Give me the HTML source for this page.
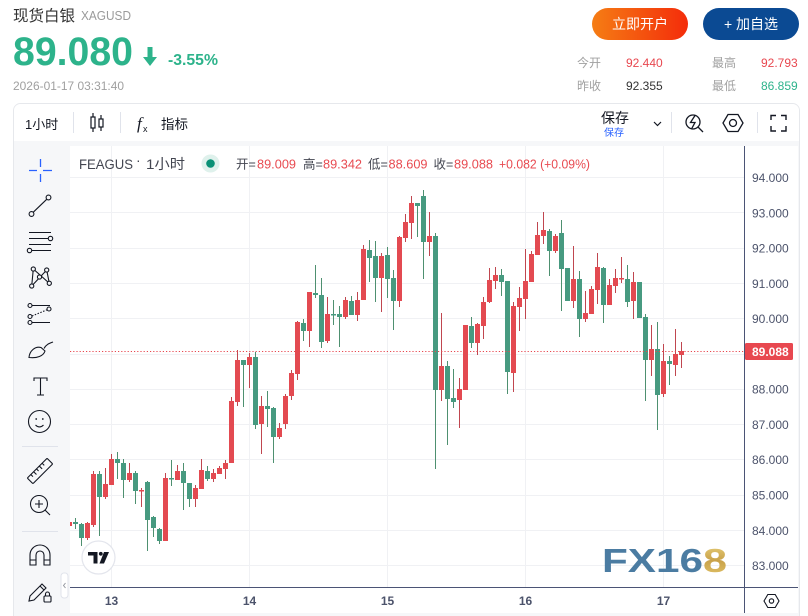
<!DOCTYPE html>
<html>
<head>
<meta charset="utf-8">
<style>
html,body{margin:0;padding:0;background:#fff;}
body{width:808px;height:616px;overflow:hidden;position:relative;}
svg{position:absolute;left:0;top:0;}
text{font-family:"Liberation Sans","Noto Sans CJK SC",sans-serif;}
</style>
</head>
<body>
<svg width="808" height="616" viewBox="0 0 808 616" xmlns="http://www.w3.org/2000/svg">
<defs>
  <linearGradient id="og" x1="0" x2="1" y1="0" y2="0">
    <stop offset="0" stop-color="#f57d14"/>
    <stop offset="1" stop-color="#f42c0a"/>
  </linearGradient>
  <linearGradient id="gold" x1="0" x2="0" y1="0" y2="1">
    <stop offset="0" stop-color="#ead27e"/>
    <stop offset="0.5" stop-color="#c9a24a"/>
    <stop offset="1" stop-color="#e3c56a"/>
  </linearGradient>
  <clipPath id="chartclip"><rect x="70" y="146" width="675" height="441"/></clipPath>
</defs>

<text x="13" y="21" font-size="15.5" fill="#333">现货白银</text>
<text x="81" y="20" font-size="12.5" fill="#9a9a9a" textLength="50" lengthAdjust="spacingAndGlyphs">XAGUSD</text>
<text x="13" y="65" font-size="40" font-weight="bold" fill="#2db38b" textLength="120" lengthAdjust="spacingAndGlyphs">89.080</text>
<path d="M147.5 47H152.5V57H157L150 66L143 57H147.5Z" fill="#2db38b"/>
<text x="168" y="65" font-size="15.5" font-weight="bold" fill="#2db38b" textLength="50" lengthAdjust="spacingAndGlyphs">-3.55%</text>
<text x="13" y="90" font-size="12" fill="#a0a0a0" textLength="111" lengthAdjust="spacingAndGlyphs">2026-01-17 03:31:40</text>

<rect x="592" y="8" width="96" height="32" rx="16" fill="url(#og)"/>
<text x="640" y="29" font-size="14" fill="#fff" text-anchor="middle">立即开户</text>
<rect x="703" y="8" width="96" height="32" rx="16" fill="#0b4a93"/>
<text x="751" y="29" font-size="14" fill="#fff" text-anchor="middle">+ 加自选</text>

<text x="577" y="67" font-size="12" fill="#a0a0a0">今开</text>
<text x="626" y="67" font-size="12" fill="#e8474f">92.440</text>
<text x="712" y="67" font-size="12" fill="#a0a0a0">最高</text>
<text x="761" y="67" font-size="12" fill="#e8474f">92.793</text>
<text x="577" y="90" font-size="12" fill="#a0a0a0">昨收</text>
<text x="626" y="90" font-size="12" fill="#333">92.355</text>
<text x="712" y="90" font-size="12" fill="#a0a0a0">最低</text>
<text x="761" y="90" font-size="12" fill="#2db38b">86.859</text>

<rect x="13.5" y="103.5" width="786" height="520" rx="7" fill="#f6f7f9" stroke="#e6e8ec"/>
<path d="M14 141V110.5A6.5 6.5 0 0 1 20.5 104H792.5A6.5 6.5 0 0 1 799 110.5V141Z" fill="#fff"/>

<text x="25" y="129" font-size="13" fill="#131722">1小时</text>
<line x1="73.5" y1="112" x2="73.5" y2="133" stroke="#e0e3eb"/>
<g stroke="#131722" stroke-width="1.2" fill="none">
  <line x1="93" y1="113" x2="93" y2="132"/>
  <rect x="91" y="117" width="4" height="11" fill="#fff"/>
  <line x1="101" y1="115" x2="101" y2="131"/>
  <rect x="99" y="119" width="4" height="8" fill="#fff"/>
</g>
<line x1="120.5" y1="112" x2="120.5" y2="133" stroke="#e0e3eb"/>
<text x="137" y="129" font-size="17" font-style="italic" fill="#131722" style="font-family:'Liberation Serif',serif">f</text>
<text x="143" y="132" font-size="9" fill="#131722">x</text>
<text x="161" y="129" font-size="13.5" fill="#131722">指标</text>

<text x="601" y="123" font-size="14" fill="#131722">保存</text>
<text x="604" y="136" font-size="10" fill="#2962ff">保存</text>
<path d="M654 122L657.5 125.5L661 122" stroke="#131722" stroke-width="1.2" fill="none"/>
<line x1="671.5" y1="112" x2="671.5" y2="133" stroke="#e0e3eb"/>
<g stroke="#131722" stroke-width="1.3" fill="none">
  <circle cx="693" cy="122" r="7"/>
  <line x1="698" y1="127" x2="703" y2="132"/>
  <path d="M695 115.5L690.5 122.5H695L691.5 129"/>
</g>
<g stroke="#131722" stroke-width="1.3" fill="none">
  <path d="M723 123L728 114.5H738L743 123L738 131.5H728Z"/>
  <circle cx="733" cy="123" r="3.5"/>
</g>
<line x1="757.5" y1="112" x2="757.5" y2="133" stroke="#e0e3eb"/>
<g stroke="#131722" stroke-width="1.4" fill="none">
  <path d="M771 120V115.5H776M781 115.5H786V120M786 126V131H781M776 131H771V126"/>
</g>

<rect x="70" y="146" width="728" height="467" fill="#fff"/>

<g stroke="#f0f1f4" stroke-width="1">
  <line x1="70" y1="177.5" x2="745" y2="177.5"/>
  <line x1="70" y1="212.5" x2="745" y2="212.5"/>
  <line x1="70" y1="248.5" x2="745" y2="248.5"/>
  <line x1="70" y1="283.5" x2="745" y2="283.5"/>
  <line x1="70" y1="318.5" x2="745" y2="318.5"/>
  <line x1="70" y1="354.5" x2="745" y2="354.5"/>
  <line x1="70" y1="389.5" x2="745" y2="389.5"/>
  <line x1="70" y1="424.5" x2="745" y2="424.5"/>
  <line x1="70" y1="459.5" x2="745" y2="459.5"/>
  <line x1="70" y1="495.5" x2="745" y2="495.5"/>
  <line x1="70" y1="530.5" x2="745" y2="530.5"/>
  <line x1="70" y1="565.5" x2="745" y2="565.5"/>
  <line x1="111.5" y1="146" x2="111.5" y2="587"/>
  <line x1="249.5" y1="146" x2="249.5" y2="587"/>
  <line x1="387.5" y1="146" x2="387.5" y2="587"/>
  <line x1="525.5" y1="146" x2="525.5" y2="587"/>
  <line x1="663.5" y1="146" x2="663.5" y2="587"/>
</g>

<text x="602" y="572" font-size="33" font-weight="bold" fill="#4b7ca2" textLength="101" lengthAdjust="spacingAndGlyphs">FX16</text>
<text x="703" y="572" font-size="33" font-weight="bold" fill="url(#gold)" textLength="24" lengthAdjust="spacingAndGlyphs">8</text>

<g clip-path="url(#chartclip)">
<path fill="none" stroke="#c0464f" stroke-width="1" d="M69.5 521V527M87.5 522V540M93.5 471V527M105.5 468V499M111.5 454V485M129.5 463V482M141.5 488V507M165.5 473V541M177.5 465V480M195.5 485V507M201.5 459V489M213.5 469V482M219.5 466V474M225.5 460V479M231.5 397V463M237.5 350V406M249.5 353V388M261.5 396V454M279.5 423V439M285.5 394V429M291.5 370V400M297.5 321V380M309.5 292V347M327.5 297V343M345.5 297V319M357.5 292V321M363.5 245V300M381.5 253V312M399.5 236V307M405.5 214V242M411.5 196V239M429.5 212V256M441.5 313V401M459.5 378V428M465.5 325V390M477.5 323V355M483.5 297V339M489.5 268V303M495.5 267V289M513.5 302V392M519.5 287V331M525.5 249V319M531.5 251V282M537.5 222V255M543.5 212V244M555.5 234V253M573.5 246V308M585.5 291V322M591.5 286V314M597.5 253V304M609.5 279V305M615.5 269V293M621.5 257V283M633.5 272V319M651.5 325V376M663.5 344V397M675.5 329V376M681.5 342V368"/>
<path fill="none" stroke="#4e9070" stroke-width="1" d="M75.5 518V529M81.5 523V546M99.5 471V536M117.5 452V479M123.5 459V498M135.5 471V504M147.5 481V551M153.5 516V537M159.5 528V544M171.5 460V486M183.5 463V510M189.5 483V507M207.5 466V481M243.5 360V407M255.5 352V429M267.5 391V427M273.5 407V463M303.5 319V341M315.5 265V298M321.5 278V348M333.5 300V325M339.5 306V347M351.5 296V315M369.5 240V282M375.5 241V302M387.5 247V298M393.5 270V330M417.5 203V237M423.5 190V279M435.5 233V469M447.5 361V445M453.5 369V408M471.5 317V348M501.5 269V296M507.5 281V394M549.5 229V276M561.5 220V311M567.5 268V301M579.5 271V337M603.5 267V323M627.5 265V307M639.5 282V318M645.5 314V401M657.5 322V430M669.5 356V385"/>
<g fill="#e34a51">
<rect x="67" y="522" width="5" height="4"/>
<rect x="85" y="523" width="5" height="15"/>
<rect x="91" y="474" width="5" height="51"/>
<rect x="103" y="484" width="5" height="13"/>
<rect x="109" y="459" width="5" height="26"/>
<rect x="127" y="473" width="5" height="7"/>
<rect x="139" y="490" width="5" height="1.5"/>
<rect x="163" y="478" width="5" height="63"/>
<rect x="175" y="471" width="5" height="9"/>
<rect x="193" y="488" width="5" height="11"/>
<rect x="199" y="470" width="5" height="19"/>
<rect x="211" y="473" width="5" height="6"/>
<rect x="217" y="468" width="5" height="6"/>
<rect x="223" y="463" width="5" height="6"/>
<rect x="229" y="401" width="5" height="62"/>
<rect x="235" y="360" width="5" height="42"/>
<rect x="247" y="357" width="5" height="8"/>
<rect x="259" y="406" width="5" height="18"/>
<rect x="277" y="428" width="5" height="9"/>
<rect x="283" y="396" width="5" height="28"/>
<rect x="289" y="373" width="5" height="23"/>
<rect x="295" y="322" width="5" height="52"/>
<rect x="307" y="292" width="5" height="39"/>
<rect x="325" y="314" width="5" height="27"/>
<rect x="343" y="300" width="5" height="17"/>
<rect x="355" y="300" width="5" height="15"/>
<rect x="361" y="249" width="5" height="51"/>
<rect x="379" y="256" width="5" height="22"/>
<rect x="397" y="237" width="5" height="64"/>
<rect x="403" y="222" width="5" height="16"/>
<rect x="409" y="203" width="5" height="20"/>
<rect x="427" y="236" width="5" height="6"/>
<rect x="439" y="366" width="5" height="24"/>
<rect x="457" y="389" width="5" height="11"/>
<rect x="463" y="325" width="5" height="65"/>
<rect x="475" y="324" width="5" height="19"/>
<rect x="481" y="302" width="5" height="24"/>
<rect x="487" y="280" width="5" height="22"/>
<rect x="493" y="275" width="5" height="6"/>
<rect x="511" y="306" width="5" height="67"/>
<rect x="517" y="298" width="5" height="9"/>
<rect x="523" y="281" width="5" height="18"/>
<rect x="529" y="254" width="5" height="28"/>
<rect x="535" y="235" width="5" height="20"/>
<rect x="541" y="230" width="5" height="6"/>
<rect x="553" y="236" width="5" height="15"/>
<rect x="571" y="279" width="5" height="22"/>
<rect x="583" y="313" width="5" height="6"/>
<rect x="589" y="289" width="5" height="25"/>
<rect x="595" y="267" width="5" height="23"/>
<rect x="607" y="285" width="5" height="20"/>
<rect x="613" y="278" width="5" height="8"/>
<rect x="619" y="278" width="5" height="1.5"/>
<rect x="631" y="282" width="5" height="19"/>
<rect x="649" y="349" width="5" height="11"/>
<rect x="661" y="361" width="5" height="33"/>
<rect x="673" y="354" width="5" height="11"/>
<rect x="679" y="351" width="5" height="4"/>
</g>
<g fill="#479a80">
<rect x="73" y="522" width="5" height="2"/>
<rect x="79" y="524" width="5" height="14"/>
<rect x="97" y="474" width="5" height="23"/>
<rect x="115" y="459" width="5" height="4"/>
<rect x="121" y="463" width="5" height="17"/>
<rect x="133" y="473" width="5" height="18"/>
<rect x="145" y="482" width="5" height="38"/>
<rect x="151" y="517" width="5" height="11"/>
<rect x="157" y="529" width="5" height="12"/>
<rect x="169" y="478" width="5" height="1.5"/>
<rect x="181" y="471" width="5" height="12"/>
<rect x="187" y="483" width="5" height="16"/>
<rect x="205" y="471" width="5" height="8"/>
<rect x="241" y="360" width="5" height="5"/>
<rect x="253" y="357" width="5" height="68"/>
<rect x="265" y="406" width="5" height="3"/>
<rect x="271" y="408" width="5" height="29"/>
<rect x="301" y="323" width="5" height="8"/>
<rect x="313" y="293" width="5" height="2"/>
<rect x="319" y="295" width="5" height="47"/>
<rect x="331" y="314" width="5" height="1.5"/>
<rect x="337" y="314" width="5" height="3"/>
<rect x="349" y="301" width="5" height="14"/>
<rect x="367" y="250" width="5" height="8"/>
<rect x="373" y="256" width="5" height="22"/>
<rect x="385" y="255" width="5" height="24"/>
<rect x="391" y="278" width="5" height="23"/>
<rect x="415" y="203" width="5" height="3"/>
<rect x="421" y="196" width="5" height="46"/>
<rect x="433" y="236" width="5" height="154"/>
<rect x="445" y="366" width="5" height="33"/>
<rect x="451" y="398" width="5" height="4"/>
<rect x="469" y="326" width="5" height="17"/>
<rect x="499" y="275" width="5" height="7"/>
<rect x="505" y="281" width="5" height="91"/>
<rect x="547" y="231" width="5" height="20"/>
<rect x="559" y="233" width="5" height="36"/>
<rect x="565" y="268" width="5" height="33"/>
<rect x="577" y="279" width="5" height="40"/>
<rect x="601" y="268" width="5" height="37"/>
<rect x="625" y="279" width="5" height="23"/>
<rect x="637" y="282" width="5" height="36"/>
<rect x="643" y="317" width="5" height="43"/>
<rect x="655" y="349" width="5" height="46"/>
<rect x="667" y="361" width="5" height="3"/>
</g>
</g>

<line x1="70" y1="351.5" x2="745" y2="351.5" stroke="#e84850" stroke-width="1" stroke-dasharray="1.2,2"/>

<text x="79" y="169" font-size="13.5" fill="#434651" textLength="54" lengthAdjust="spacingAndGlyphs">FEAGUS</text>
<text x="136" y="165" font-size="14" fill="#434651">·</text>
<text x="146" y="169" font-size="14" fill="#434651" textLength="39" lengthAdjust="spacingAndGlyphs">1小时</text>
<circle cx="210.5" cy="163.5" r="9" fill="#dff1ec"/>
<circle cx="210.5" cy="163.5" r="4.3" fill="#0a9176"/>
<g font-size="12.5">
<text x="236" y="168.5" fill="#434651">开=</text>
<text x="257" y="168.5" fill="#e84a50" textLength="39" lengthAdjust="spacingAndGlyphs">89.009</text>
<text x="303" y="168.5" fill="#434651">高=</text>
<text x="323" y="168.5" fill="#e84a50" textLength="39" lengthAdjust="spacingAndGlyphs">89.342</text>
<text x="368" y="168.5" fill="#434651">低=</text>
<text x="388.5" y="168.5" fill="#e84a50" textLength="39" lengthAdjust="spacingAndGlyphs">88.609</text>
<text x="433.5" y="168.5" fill="#434651">收=</text>
<text x="454" y="168.5" fill="#e84a50" textLength="39" lengthAdjust="spacingAndGlyphs">89.088</text>
<text x="499" y="168.5" fill="#e84a50" textLength="91" lengthAdjust="spacingAndGlyphs">+0.082 (+0.09%)</text>
</g>

<circle cx="98.5" cy="557.5" r="16.5" fill="#fff" stroke="#e3e5ec" stroke-width="1.2"/>
<g fill="#131722">
  <path d="M88 552H97.5V563.5H93.5V555.5H88Z"/>
  <circle cx="100.8" cy="553.8" r="1.9"/>
  <path d="M104 552H109L104 563.5H99.5Z"/>
</g>

<line x1="744.5" y1="146" x2="744.5" y2="613" stroke="#4b5475" stroke-width="1"/>
<line x1="70" y1="587.5" x2="798" y2="587.5" stroke="#4b5475" stroke-width="1"/>

<g font-size="12" fill="#4c536b">
<text x="752" y="182">94.000</text>
<text x="752" y="217.5">93.000</text>
<text x="752" y="252.5">92.000</text>
<text x="752" y="288">91.000</text>
<text x="752" y="323">90.000</text>
<text x="752" y="393.5">88.000</text>
<text x="752" y="429">87.000</text>
<text x="752" y="464">86.000</text>
<text x="752" y="499.5">85.000</text>
<text x="752" y="535">84.000</text>
<text x="752" y="570">83.000</text>
</g>
<rect x="745" y="343" width="48" height="17" rx="1.5" fill="#e84850"/>
<text x="752" y="356" font-size="12" fill="#fff" font-weight="bold">89.088</text>

<g font-size="12" fill="#4c536b" font-weight="bold" text-anchor="middle">
<text x="111.5" y="605">13</text>
<text x="249.5" y="605">14</text>
<text x="387.5" y="605">15</text>
<text x="525.5" y="605">16</text>
<text x="663.5" y="605">17</text>
</g>
<g stroke="#131722" stroke-width="1.1" fill="none">
  <path d="M764 601L767.8 594.5H775.2L779 601L775.2 607.5H767.8Z"/>
  <circle cx="771.5" cy="601" r="2.2"/>
</g>

<g stroke="#2962ff" stroke-width="1.3">
  <path d="M29 170.5H37M43 170.5H52M40.5 159V167M40.5 174V182"/>
</g>
<g stroke="#131722" stroke-width="1.1" fill="none">
  <circle cx="31.5" cy="214" r="2.4" fill="#f6f7f9"/>
  <circle cx="48.5" cy="197.5" r="2.4" fill="#f6f7f9"/>
  <line x1="33.3" y1="212.2" x2="46.7" y2="199.3"/>
  <path d="M29 232.5H51M29 238.5H48M29 244.5H51M32 250.5H51"/>
  <circle cx="50.5" cy="238.5" r="2.2" fill="#f6f7f9"/>
  <circle cx="29.5" cy="250.5" r="2.2" fill="#f6f7f9"/>
  <path d="M31.7 286L33.3 269L49.3 283.3L46.7 270L31.7 286"/>
  <circle cx="33.3" cy="269" r="2.1" fill="#f6f7f9"/>
  <circle cx="46.7" cy="270" r="2.1" fill="#f6f7f9"/>
  <circle cx="39.5" cy="277" r="2.1" fill="#f6f7f9"/>
  <circle cx="31.7" cy="286" r="2.1" fill="#f6f7f9"/>
  <circle cx="49.3" cy="283.3" r="2.1" fill="#f6f7f9"/>
  <path d="M32 305.5H50M32 322.5H50"/>
  <path d="M32 316L49 309" stroke-dasharray="1.5,1.5"/>
  <circle cx="30" cy="305.5" r="2" fill="#f6f7f9"/>
  <circle cx="30" cy="316.5" r="2" fill="#f6f7f9"/>
  <circle cx="49" cy="309" r="2" fill="#f6f7f9"/>
  <circle cx="30" cy="322.5" r="2" fill="#f6f7f9"/>
  <path d="M29 357.5C29.5 351 35 346 41 347.5L45 351C43.5 356 37 358.5 29 357.5Z"/>
  <path d="M44 348.5C46 344.5 49 343.5 53 342"/>
  <path d="M34 381V378H47V381M40.5 378V395M37 395H44"/>
  <circle cx="39.5" cy="421.5" r="11"/>
  <path d="M35.5 425Q39.5 429 43.5 425"/>
  <g transform="rotate(-45 40 471)">
    <rect x="26" y="467" width="28" height="8" rx="1"/>
    <path d="M31 467V470M35 467V471M39 467V470M43 467V471M47 467V470"/>
  </g>
  <circle cx="39" cy="504" r="8.5"/>
  <path d="M35 504H43M39 500V508M45 510L50 515"/>
  <path d="M30 565V555A10 10 0 0 1 50 555V565H44V555A4 4 0 0 0 36 555V565Z"/>
  <path d="M30 560H36M44 560H50"/>
  <path d="M29 601L30 596L42 584L46 588L34 600Z"/>
  <path d="M40 586L44 590"/>
  <rect x="44" y="596" width="7" height="6" rx="1"/>
  <path d="M45.5 596V594A2 2 0 0 1 49.5 594V596"/>
</g>
<circle cx="36.2" cy="419" r="0.9" fill="#131722"/>
<circle cx="42.8" cy="419" r="0.9" fill="#131722"/>
<line x1="22" y1="446.5" x2="58" y2="446.5" stroke="#e0e3eb"/>
<line x1="22" y1="531.5" x2="58" y2="531.5" stroke="#e0e3eb"/>
<rect x="61" y="573" width="7" height="25" rx="3" fill="#fff" stroke="#e0e3eb"/>
<path d="M65.5 583L63.5 585.5L65.5 588" stroke="#9598a1" fill="none" stroke-width="1"/>
</svg>
</body>
</html>
